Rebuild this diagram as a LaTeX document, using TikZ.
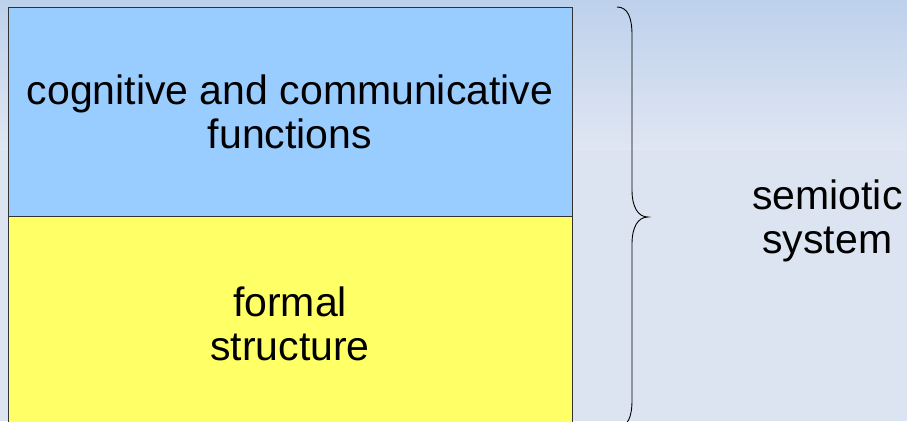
\documentclass[tikz,border=0pt]{standalone}
\usepackage{fontspec}
\setmainfont{Liberation Sans}
\usepackage{tikz}
\usetikzlibrary{positioning}
\definecolor{bgtop}{RGB}{189,209,236}
\definecolor{bgmid}{RGB}{224,230,242}
\definecolor{bgbot}{RGB}{221,228,241}
\definecolor{funcblue}{RGB}{153,204,255}
\definecolor{formyellow}{RGB}{255,255,102}
\tikzset{x=1pt,y=-1pt,
  layer/.style={draw=black!80,line width=0.8pt,minimum width=564pt,inner sep=0pt,
    align=center,font=\fontsize{41}{44}\selectfont},
  label/.style={align=center,inner sep=0pt,font=\fontsize{41}{44}\selectfont}}

\begin{document}
\begin{tikzpicture}
\useasboundingbox (0,0) rectangle (907,421);
\clip (0,0) rectangle (907,421);
\shade[top color=bgtop,bottom color=bgmid] (0,0) rectangle (907,150);
\fill[bgbot] (0,150) rectangle (907,421);
\node[layer,fill=funcblue,minimum height=209pt] (F) at (290,111.5) {cognitive and communicative\\functions};
\node[layer,fill=formyellow,minimum height=214pt,below=0pt of F] (S) {formal\\structure};
\coordinate (top) at (617,7);
\coordinate (tip) at (648,217);
\coordinate (bot) at (617,427);
\draw[line width=0.9pt] (top) .. controls (628,7) and (632,18) .. (632,35) -- (632,190)
  .. controls (632,207) and (638,217) .. (tip)
  .. controls (638,217) and (632,227) .. (632,244) -- (632,400)
  .. controls (632,417) and (628,427) .. (bot);
\node[label,right=104pt of tip,yshift=-4pt] (sys) {semiotic\\system};
\end{tikzpicture}
\end{document}
